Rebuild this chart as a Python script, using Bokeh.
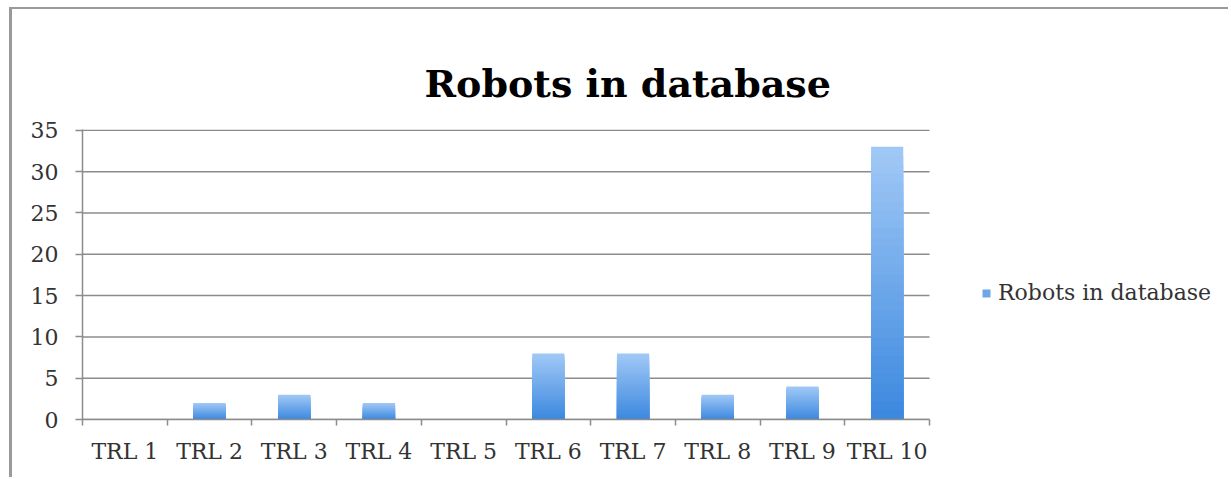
from bokeh.plotting import figure
from bokeh.models import FixedTicker, Title, Legend, LegendItem, Range1d
from bokeh.embed import file_html
from bokeh.resources import INLINE

categories = ["TRL 1", "TRL 2", "TRL 3", "TRL 4", "TRL 5",
              "TRL 6", "TRL 7", "TRL 8", "TRL 9", "TRL 10"]
counts = [0, 2, 3, 2, 0, 8, 8, 3, 4, 33]
y_ticks = [0, 5, 10, 15, 20, 25, 30, 35]
series_name = "Robots in database"
title_text = "Robots in database"

FONT = "DejaVu Serif"
TXT = "#333333"
GRID = "#8c8c8c"

n = len(categories)
xs = [i + 0.5 for i in range(n)]
bounds = list(range(n + 1))
# the frame extends under the legend; the category area covers 0..n
x_end = n * 1144 / 847

p = figure(width=1219, height=470, x_range=Range1d(0, x_end),
           y_range=Range1d(0, 35.1), output_backend="svg", toolbar_location=None,
           min_border_left=70, min_border_right=5, min_border_top=120,
           min_border_bottom=60,
           margin=(7, 0, 0, 9),
           styles={"border-left": "3px solid #9a9a9a", "border-top": "2px solid #9a9a9a"})
p.outline_line_color = None
p.background_fill_color = "white"
p.border_fill_color = "white"
p.xgrid.grid_line_color = None
p.ygrid.grid_line_color = None

# horizontal gridlines limited to the category area
p.segment(x0=[0] * len(y_ticks), x1=[n] * len(y_ticks), y0=y_ticks, y1=y_ticks,
          line_color=GRID, line_width=1.5)

# gradient bars (light top -> darker bottom)
def lerp(c1, c2, t):
    a = [int(c1[i:i + 2], 16) for i in (1, 3, 5)]
    b = [int(c2[i:i + 2], 16) for i in (1, 3, 5)]
    return "#%02x%02x%02x" % tuple(round(a[j] + (b[j] - a[j]) * t) for j in range(3))

N = 30
top_c, bot_c = "#a0c8f6", "#3d89df"
legend_r = None
for k in range(N):
    frac = 1 - k / N
    r = p.vbar(x=xs, top=[v * frac for v in counts], width=0.38,
               fill_color=lerp(top_c, bot_c, k / (N - 1)), line_color=None)
    if k == N // 2:
        legend_r = r

# axes
xa = p.xaxis[0]
xa.bounds = (0, n)
xa.ticker = FixedTicker(ticks=xs, minor_ticks=bounds)
xa.major_label_overrides = {x: c for x, c in zip(xs, categories)}
xa.major_tick_line_color = None
xa.minor_tick_line_color = GRID
xa.minor_tick_out = 6
xa.minor_tick_in = 0
xa.minor_tick_line_width = 1.5
xa.axis_line_color = GRID
xa.axis_line_width = 1.5
xa.major_label_standoff = 13
xa.major_label_text_font = FONT
xa.major_label_text_font_size = "22px"
xa.major_label_text_color = TXT

ya = p.yaxis[0]
ya.ticker = FixedTicker(ticks=y_ticks)
ya.minor_tick_line_color = None
ya.major_tick_line_color = GRID
ya.major_tick_out = 7
ya.major_tick_in = 0
ya.major_tick_line_width = 1.5
ya.axis_line_color = GRID
ya.axis_line_width = 1.5
ya.major_label_standoff = 17
ya.major_label_text_font = FONT
ya.major_label_text_font_size = "22px"
ya.major_label_text_color = TXT

# title
t = Title(text=title_text, align="left", offset=342, text_font=FONT,
          text_font_size="38px", text_font_style="bold", text_color="#000000",
          standoff=48)
p.add_layout(t, "above")

legend = Legend(items=[LegendItem(label=series_name, renderers=[legend_r])],
                location=(899, 114), padding=0, margin=0, glyph_width=10,
                glyph_height=10, label_text_font=FONT, label_text_font_size="22px",
                label_text_color=TXT, border_line_color=None,
                background_fill_alpha=0, label_standoff=7)
p.add_layout(legend, "center")

open("out.html", "w").write(file_html(p, INLINE))
